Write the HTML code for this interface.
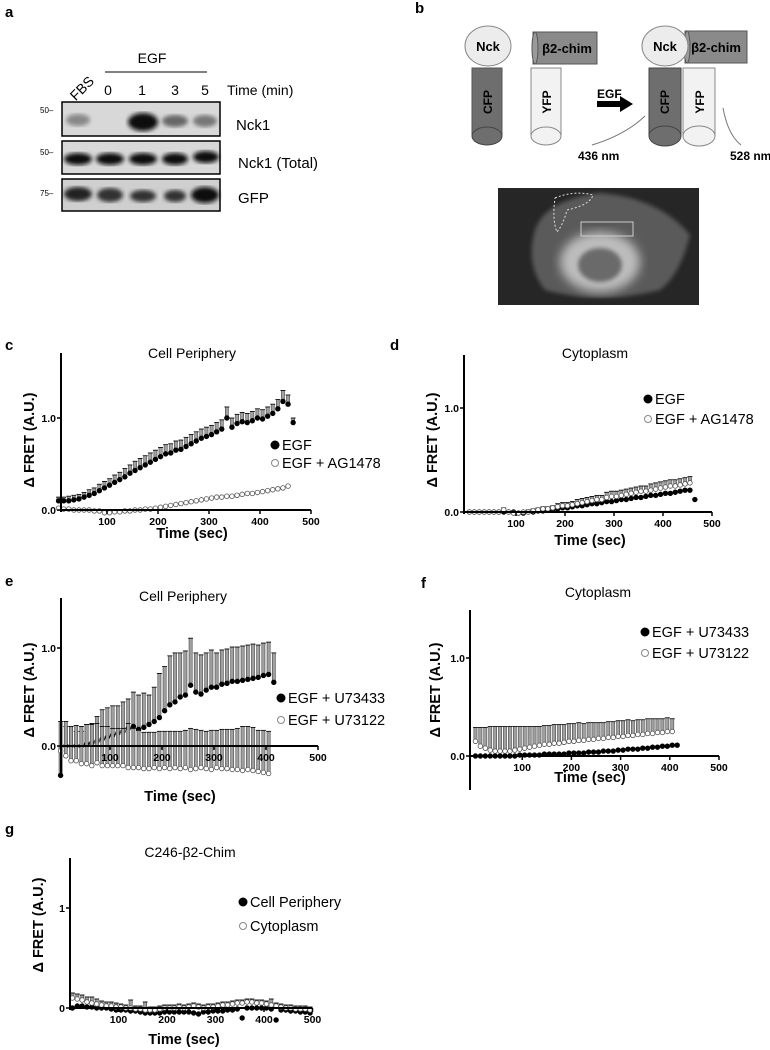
<!DOCTYPE html>
<html><head><meta charset="utf-8">
<style>
html,body{margin:0;padding:0;background:#fff;}
svg{display:block;font-family:"Liberation Sans",Arial,sans-serif;}
.lbl{font-weight:bold;font-size:15px;}
.tick{font-weight:bold;font-size:10.5px;}
.ttl{font-size:14px;}
.axt{font-weight:bold;font-size:14.5px;}
.leg{font-size:14.5px;}
</style></head>
<body>
<svg id="fig" width="770" height="1050" viewBox="0 0 770 1050">
<defs>
<filter id="blur2"><feGaussianBlur stdDeviation="2.2"/></filter>
<filter id="blur4"><feGaussianBlur stdDeviation="5"/></filter>
</defs>

<!-- Panel a -->
<g>
<text class="lbl" x="5" y="17">a</text>
<text x="69" y="95" font-size="14" transform="rotate(-45 80 90)">FBS</text>
<text x="152" y="63" font-size="14" text-anchor="middle">EGF</text>
<line x1="105" y1="72" x2="207" y2="72" stroke="#000" stroke-width="1"/>
<g font-size="14" text-anchor="middle">
<text x="108" y="95">0</text><text x="142" y="95">1</text><text x="175" y="95">3</text><text x="205" y="95">5</text>
</g>
<text x="227" y="95" font-size="14">Time (min)</text>
<g>
<rect x="62" y="102" width="158" height="34" fill="#d8d8d8" stroke="#000" stroke-width="1.5"/>
<ellipse cx="78" cy="120" rx="12" ry="6" fill="#888" filter="url(#blur2)"/>
<ellipse cx="143" cy="122" rx="15" ry="9" fill="#111" filter="url(#blur2)"/>
<ellipse cx="175" cy="121" rx="13" ry="6" fill="#666" filter="url(#blur2)"/>
<ellipse cx="205" cy="121" rx="12" ry="6" fill="#777" filter="url(#blur2)"/>
</g>
<g>
<rect x="62" y="141" width="158" height="33" fill="#d8d8d8" stroke="#000" stroke-width="1.5"/>
<ellipse cx="78" cy="159" rx="14" ry="6" fill="#111" filter="url(#blur2)"/>
<ellipse cx="110" cy="159" rx="14" ry="6" fill="#111" filter="url(#blur2)"/>
<ellipse cx="143" cy="159" rx="14" ry="6" fill="#111" filter="url(#blur2)"/>
<ellipse cx="175" cy="159" rx="13" ry="6" fill="#111" filter="url(#blur2)"/>
<ellipse cx="206" cy="157" rx="13" ry="6" fill="#111" filter="url(#blur2)"/>
</g>
<g>
<rect x="62" y="179" width="158" height="32" fill="#cfcfcf" stroke="#000" stroke-width="1.5"/>
<ellipse cx="78" cy="194" rx="14" ry="7" fill="#222" filter="url(#blur2)"/>
<ellipse cx="110" cy="195" rx="13" ry="7" fill="#333" filter="url(#blur2)"/>
<ellipse cx="143" cy="196" rx="13" ry="6" fill="#333" filter="url(#blur2)"/>
<ellipse cx="175" cy="196" rx="11" ry="6" fill="#333" filter="url(#blur2)"/>
<ellipse cx="205" cy="195" rx="14" ry="8" fill="#111" filter="url(#blur2)"/>
</g>
<g font-size="8">
<text x="40" y="113">50–</text><text x="40" y="155">50–</text><text x="40" y="196">75–</text>
</g>
<text x="236" y="130" font-size="15">Nck1</text>
<text x="238" y="168" font-size="15">Nck1 (Total)</text>
<text x="238" y="203" font-size="15">GFP</text>
</g>

<!-- Panel b -->
<g>
<text class="lbl" x="415" y="13">b</text>
<g>
<rect x="472" y="68" width="30" height="68" fill="#6e6e6e" stroke="#555"/>
<ellipse cx="487" cy="136" rx="15" ry="9" fill="#6e6e6e" stroke="#444"/>
<ellipse cx="488" cy="46" rx="23" ry="20" fill="#ececec" stroke="#888"/>
<text x="488" y="51" font-size="13" font-weight="bold" text-anchor="middle">Nck</text>
<text x="492" y="102" font-size="12" font-weight="bold" text-anchor="middle" transform="rotate(-90 492 102)">CFP</text>
<rect x="531" y="68" width="30" height="68" fill="#f2f2f2" stroke="#888"/>
<ellipse cx="546" cy="136" rx="15" ry="9" fill="#f2f2f2" stroke="#888"/>
<rect x="533" y="32" width="64" height="32" fill="#8a8a8a" stroke="#555"/>
<ellipse cx="535" cy="48" rx="3" ry="16" fill="#9a9a9a" stroke="#555"/>
<text x="567" y="53" font-size="13" font-weight="bold" text-anchor="middle">β2-chim</text>
<text x="551" y="102" font-size="12" font-weight="bold" text-anchor="middle" transform="rotate(-90 551 102)">YFP</text>
</g>
<text x="597" y="98" font-size="12" font-weight="bold">EGF</text>
<path d="M597 101 L620 101 L620 96 L633 104 L620 112 L620 107 L597 107 Z" fill="#000"/>
<g>
<rect x="649" y="68" width="32" height="68" fill="#6e6e6e" stroke="#444"/>
<ellipse cx="665" cy="136" rx="16" ry="10" fill="#6e6e6e" stroke="#444"/>
<rect x="683" y="68" width="32" height="68" fill="#f2f2f2" stroke="#888"/>
<ellipse cx="699" cy="136" rx="16" ry="10" fill="#f2f2f2" stroke="#888"/>
<rect x="685" y="31" width="62" height="32" fill="#8a8a8a" stroke="#555"/>
<ellipse cx="687" cy="47" rx="3" ry="16" fill="#9a9a9a" stroke="#555"/>
<ellipse cx="665" cy="46" rx="23" ry="20" fill="#ececec" stroke="#888"/>
<text x="665" y="51" font-size="13" font-weight="bold" text-anchor="middle">Nck</text>
<text x="716" y="52" font-size="13" font-weight="bold" text-anchor="middle">β2-chim</text>
<text x="669" y="102" font-size="12" font-weight="bold" text-anchor="middle" transform="rotate(-90 669 102)">CFP</text>
<text x="704" y="102" font-size="12" font-weight="bold" text-anchor="middle" transform="rotate(-90 704 102)">YFP</text>
</g>
<path d="M592 145 Q625 135 645 116" fill="none" stroke="#777"/>
<path d="M723 108 Q728 135 741 145" fill="none" stroke="#777"/>
<text x="578" y="160" font-size="12" font-weight="bold">436 nm</text>
<text x="730" y="160" font-size="12" font-weight="bold">528 nm</text>
<g>
<rect x="498" y="188" width="201" height="117" fill="#262626"/>
<path d="M535 230 Q545 200 600 193 Q660 198 690 235 Q680 275 660 290 Q600 305 545 290 Q525 265 535 230Z" fill="#5a5a5a" filter="url(#blur2)"/>
<ellipse cx="600" cy="262" rx="40" ry="30" fill="#bdbdbd" filter="url(#blur4)"/>
<ellipse cx="600" cy="265" rx="22" ry="17" fill="#6a6a6a" filter="url(#blur2)"/>
<path d="M555 198 Q575 190 593 195 Q590 205 567 210 Q563 225 557 232 Q552 220 555 198Z" fill="none" stroke="#ddd" stroke-dasharray="2 2"/>
<rect x="581" y="222" width="52" height="14" fill="none" stroke="#ccc"/>
</g>
</g>

<g id="charts"></g>
</svg>

<script>
// ---------- Panel c data ----------
const cT = [5,15,25,35,45,55,65,75,85,95,105,115,125,135,145,155,165,175,185,195,205,215,225,235,245,255,265,275,285,295,305,315,325,335,345,355,365,375,385,395,405,415,425,435,445,455,465];
const cEGF = [0.10,0.10,0.10,0.11,0.12,0.14,0.16,0.18,0.21,0.24,0.27,0.30,0.33,0.36,0.40,0.43,0.46,0.49,0.52,0.55,0.58,0.61,0.62,0.65,0.66,0.69,0.72,0.75,0.78,0.80,0.82,0.85,0.88,1.00,0.90,0.94,0.96,0.95,0.97,1.00,0.99,1.02,1.05,1.10,1.18,1.15,0.95];
const cEGFerr = [0.04,0.04,0.05,0.05,0.05,0.05,0.06,0.06,0.07,0.07,0.07,0.08,0.08,0.09,0.09,0.1,0.1,0.1,0.1,0.1,0.1,0.1,0.1,0.1,0.1,0.1,0.1,0.1,0.1,0.1,0.1,0.1,0.1,0.12,0.1,0.1,0.1,0.1,0.1,0.1,0.1,0.1,0.1,0.1,0.12,0.1,0.05];
const cAG = [0.02,0.01,0.01,0.0,0.0,0.0,0.0,-0.01,-0.01,-0.03,-0.03,-0.02,-0.02,-0.01,-0.01,0.0,0.0,0.01,0.01,0.02,0.03,0.04,0.05,0.06,0.07,0.08,0.09,0.10,0.11,0.12,0.13,0.14,0.14,0.15,0.15,0.16,0.17,0.18,0.18,0.19,0.20,0.21,0.22,0.23,0.24,0.26];
// ---------- Panel d data ----------
const dT = cT;
const dEGF = [0.0,0.0,0.0,0.0,0.0,0.0,0.0,0.0,0.0,0.0,-0.01,-0.01,0.0,0.0,0.01,0.01,0.02,0.02,0.03,0.04,0.04,0.05,0.06,0.06,0.07,0.08,0.08,0.09,0.10,0.10,0.11,0.12,0.12,0.13,0.14,0.14,0.15,0.16,0.16,0.17,0.18,0.18,0.19,0.20,0.21,0.21,0.12];
const dAG = [0.0,0.0,0.0,0.0,0.0,0.0,0.0,0.02,0.0,-0.01,-0.01,0.0,0.0,0.01,0.02,0.03,0.03,0.04,0.05,0.06,0.06,0.07,0.08,0.09,0.10,0.11,0.12,0.12,0.14,0.15,0.15,0.16,0.17,0.18,0.19,0.20,0.20,0.21,0.22,0.23,0.24,0.25,0.25,0.26,0.27,0.28];
const dAGerr = [0.01,0.01,0.01,0.01,0.01,0.01,0.01,0.02,0.01,0.01,0.01,0.01,0.02,0.02,0.02,0.02,0.02,0.02,0.03,0.03,0.03,0.03,0.04,0.04,0.04,0.04,0.04,0.04,0.05,0.05,0.05,0.05,0.05,0.05,0.05,0.05,0.05,0.06,0.06,0.06,0.06,0.06,0.06,0.06,0.06,0.06];
// ---------- Panel e data ----------
const eT = [5,15,25,35,45,55,65,75,85,95,105,115,125,135,145,155,165,175,185,195,205,215,225,235,245,255,265,275,285,295,305,315,325,335,345,355,365,375,385,395,405,415];
const eU433 = [-0.3,0.0,0.0,0.0,0.0,0.02,0.03,0.05,0.07,0.09,0.11,0.13,0.15,0.18,0.2,0.17,0.19,0.22,0.25,0.29,0.36,0.42,0.45,0.5,0.52,0.62,0.55,0.53,0.57,0.6,0.6,0.63,0.64,0.66,0.66,0.67,0.68,0.69,0.7,0.72,0.73,0.65];
const eU433err = [0.3,0.2,0.2,0.15,0.15,0.2,0.2,0.25,0.3,0.3,0.3,0.28,0.3,0.3,0.35,0.35,0.35,0.3,0.35,0.45,0.45,0.5,0.5,0.45,0.45,0.48,0.4,0.4,0.38,0.38,0.35,0.35,0.35,0.35,0.35,0.35,0.35,0.35,0.33,0.33,0.33,0.3];
const eU122 = [-0.05,-0.1,-0.15,-0.15,-0.18,-0.18,-0.2,-0.17,-0.2,-0.2,-0.2,-0.2,-0.2,-0.22,-0.22,-0.22,-0.23,-0.23,-0.22,-0.23,-0.22,-0.23,-0.22,-0.23,-0.22,-0.24,-0.23,-0.22,-0.23,-0.24,-0.22,-0.23,-0.23,-0.24,-0.24,-0.25,-0.24,-0.25,-0.26,-0.27,-0.28];
const eU122err = [0.3,0.35,0.35,0.36,0.38,0.4,0.42,0.4,0.4,0.4,0.38,0.38,0.38,0.45,0.4,0.38,0.37,0.37,0.36,0.38,0.37,0.38,0.37,0.38,0.38,0.42,0.4,0.38,0.38,0.4,0.38,0.4,0.4,0.41,0.42,0.45,0.44,0.44,0.42,0.43,0.43];
// ---------- Panel f data ----------
const fT = [5,15,25,35,45,55,65,75,85,95,105,115,125,135,145,155,165,175,185,195,205,215,225,235,245,255,265,275,285,295,305,315,325,335,345,355,365,375,385,395,405,415];
const fU433 = [0.0,0.0,0.0,0.0,0.0,0.0,0.0,0.0,0.0,0.01,0.01,0.01,0.01,0.01,0.02,0.02,0.02,0.02,0.02,0.03,0.03,0.03,0.03,0.04,0.04,0.04,0.05,0.05,0.05,0.06,0.06,0.07,0.07,0.07,0.08,0.08,0.09,0.09,0.1,0.1,0.11,0.11];
const fU122 = [0.15,0.1,0.08,0.06,0.05,0.05,0.05,0.05,0.06,0.07,0.08,0.09,0.1,0.11,0.12,0.12,0.13,0.13,0.14,0.15,0.15,0.16,0.16,0.17,0.17,0.18,0.18,0.19,0.19,0.2,0.2,0.21,0.21,0.22,0.22,0.23,0.23,0.24,0.24,0.25,0.25];
const fU122err = [0.14,0.19,0.21,0.24,0.25,0.25,0.25,0.25,0.24,0.23,0.22,0.21,0.2,0.19,0.19,0.19,0.19,0.19,0.18,0.18,0.18,0.18,0.17,0.17,0.17,0.16,0.16,0.16,0.16,0.16,0.16,0.16,0.15,0.15,0.15,0.15,0.15,0.14,0.14,0.14,0.13];
// ---------- Panel g data ----------
const gT = [5,15,25,35,45,55,65,75,85,95,105,115,125,135,145,155,165,175,185,195,205,215,225,235,245,255,265,275,285,295,305,315,325,335,345,355,365,375,385,395,405,415,425,435,445,455,465,475,485,495];
const gPer = [0.0,0.02,0.02,0.01,0.01,0.0,0.0,0.0,-0.01,-0.02,-0.02,-0.02,-0.03,-0.03,-0.04,-0.05,-0.05,-0.05,-0.05,-0.04,-0.04,-0.04,-0.04,-0.04,-0.04,-0.05,-0.06,-0.04,-0.04,-0.03,-0.03,-0.03,-0.02,-0.02,-0.01,-0.1,0.0,0.0,0.0,0.0,0.0,-0.01,-0.12,-0.02,-0.02,-0.03,-0.03,-0.04,-0.04,-0.05];
const gCyt = [0.1,0.09,0.08,0.06,0.05,0.04,0.03,0.02,0.02,0.01,0.01,0.0,0.0,-0.01,-0.01,-0.02,-0.02,-0.02,-0.01,0.0,0.0,0.0,0.01,0.0,0.01,0.02,0.01,0.0,0.01,0.01,0.02,0.03,0.03,0.04,0.05,0.05,0.06,0.06,0.05,0.05,0.04,0.03,0.02,0.01,0.0,0.0,-0.01,-0.01,-0.01,-0.02];
const gCyterr = [0.05,0.05,0.05,0.05,0.06,0.05,0.04,0.04,0.04,0.04,0.03,0.03,0.08,0.03,0.03,0.08,0.03,0.03,0.03,0.03,0.03,0.03,0.03,0.03,0.03,0.03,0.03,0.03,0.03,0.03,0.03,0.03,0.03,0.03,0.03,0.03,0.03,0.03,0.03,0.03,0.03,0.06,0.03,0.03,0.03,0.03,0.03,0.03,0.03,0.03];

const xTicks = [100,200,300,400,500];
const NS = "http://www.w3.org/2000/svg";
const root = document.getElementById('charts');
function mk(tag, attrs, parent){ const e=document.createElementNS(NS,tag); for(const k in attrs) e.setAttribute(k,attrs[k]); (parent||root).appendChild(e); return e; }

function chart(cfg){
  const g = mk('g',{});
  
  
  const X = t => cfg.x0 + t*cfg.pxs;
  const Y = v => cfg.y0 - v*cfg.pyu;
  const L = mk('text',{x:cfg.lx,y:cfg.ly,'class':'lbl'},g); L.textContent=cfg.letter;
  
  
  const T = mk('text',{x:cfg.tx,y:cfg.ty,'class':'ttl','text-anchor':'middle'},g); T.textContent=cfg.title;
  
  
  cfg.series.forEach(s=>{
    const sg = mk('g',{},g);
    
    
    s.t.slice(0,s.v.length).forEach((t,i)=>{
      const v=s.v[i];
      if(s.err){
        const e=s.err[i];
        const top=Y(v+e);
        const bar=mk('rect',{x:X(t)-1.6,y:top,width:3.2,height:Math.max(0,Y(v)-top),fill:'#a0a0a0',stroke:'#333','stroke-width':0.5},sg);
        
        
        mk('line',{x1:X(t)-2.5,x2:X(t)+2.5,y1:top,y2:top,stroke:'#000','stroke-width':0.8},sg);
      }
    });
    s.t.slice(0,s.v.length).forEach((t,i)=>{
      const c=mk('circle',{cx:X(t),cy:Y(s.v[i]),r:2.3,fill:s.filled?'#000':'#fff',stroke:s.filled?'#000':'#555','stroke-width':0.8},sg);
      
      
    });
  });
  const ya=mk('line',{x1:cfg.ax,x2:cfg.ax,y1:cfg.atop,y2:cfg.abot||cfg.y0+2,stroke:'#000','stroke-width':2},g);
  
  
  const xa=mk('line',{x1:cfg.ax,x2:X(500),y1:cfg.y0,y2:cfg.y0,stroke:'#000','stroke-width':2},g);
  
  
  xTicks.forEach(t=>{
    mk('line',{x1:X(t),x2:X(t),y1:cfg.y0,y2:cfg.y0+4,stroke:'#000','stroke-width':1.5},g);
    const tl=mk('text',{x:X(t),y:cfg.y0+15,'class':'tick','text-anchor':'middle'},g); tl.textContent=t;
    
    
  });
  cfg.yTicks.forEach((v,i)=>{
    mk('line',{x1:cfg.ax-4,x2:cfg.ax,y1:Y(v),y2:Y(v),stroke:'#000','stroke-width':1.5},g);
    const tl=mk('text',{x:cfg.ax-5,y:Y(v)+4,'class':'tick','text-anchor':'end'},g); tl.textContent=cfg.yLabels[i];
    
    
  });
  const xt=mk('text',{x:cfg.xtx,y:cfg.xty,'class':'axt','text-anchor':'middle'},g); xt.textContent='Time (sec)';
  
  
  const yt=mk('text',{x:cfg.ytx,y:cfg.yty,'class':'axt','text-anchor':'middle',transform:`rotate(-90 ${cfg.ytx} ${cfg.yty})`},g); yt.textContent='Δ FRET (A.U.)';
  
  
  cfg.series.forEach((s,i)=>{
    const lg=mk('g',{},g);
    
    
    mk('circle',{cx:cfg.legx,cy:cfg.legy+i*cfg.legdy-5,r:s.filled?4:3.5,fill:s.filled?'#000':'#fff',stroke:s.filled?'#000':'#888'},lg);
    const tx=mk('text',{x:cfg.legx+7,y:cfg.legy+i*cfg.legdy,'class':'leg'},lg); tx.textContent=s.label;
  });
}

chart({name:'panel-c-chart',letter:'c',lx:5,ly:350,title:'Cell Periphery',tx:192,ty:358,
  x0:56,pxs:0.51,y0:510,pyu:92,ax:61,atop:353,yTicks:[0,1],yLabels:['0.0','1.0'],
  xtx:192,xty:538,ytx:34,yty:440,legx:275,legy:450,legdy:18,
  series:[{name:'series-egf',label:'EGF',filled:true,t:cT,v:cEGF,err:cEGFerr},
          {name:'series-egf-ag1478',label:'EGF + AG1478',filled:false,t:cT,v:cAG}]});
chart({name:'panel-d-chart',letter:'d',lx:390,ly:350,title:'Cytoplasm',tx:595,ty:358,
  x0:467,pxs:0.49,y0:512,pyu:104,ax:464,atop:355,yTicks:[0,1],yLabels:['0.0','1.0'],
  xtx:590,xty:545,ytx:437,yty:440,legx:648,legy:404,legdy:20,
  series:[{name:'series-egf',label:'EGF',filled:true,t:dT,v:dEGF},
          {name:'series-egf-ag1478',label:'EGF + AG1478',filled:false,t:dT,v:dAG,err:dAGerr}]});
chart({name:'panel-e-chart',letter:'e',lx:5,ly:586,title:'Cell Periphery',tx:183,ty:601,
  x0:58,pxs:0.52,y0:746,pyu:98,ax:61,atop:598,abot:775,yTicks:[0,1],yLabels:['0.0','1.0'],
  xtx:180,xty:801,ytx:34,yty:690,legx:281,legy:703,legdy:22,
  series:[{name:'series-egf-u73433',label:'EGF + U73433',filled:true,t:eT,v:eU433,err:eU433err},
          {name:'series-egf-u73122',label:'EGF + U73122',filled:false,t:eT,v:eU122,err:eU122err}]});
chart({name:'panel-f-chart',letter:'f',lx:421,ly:588,title:'Cytoplasm',tx:598,ty:597,
  x0:473,pxs:0.492,y0:756,pyu:98,ax:470,atop:610,abot:790,yTicks:[0,1],yLabels:['0.0','1.0'],
  xtx:590,xty:782,ytx:440,yty:690,legx:645,legy:637,legdy:21,
  series:[{name:'series-egf-u73433',label:'EGF + U73433',filled:true,t:fT,v:fU433},
          {name:'series-egf-u73122',label:'EGF + U73122',filled:false,t:fT,v:fU122,err:fU122err}]});
chart({name:'panel-g-chart',letter:'g',lx:5,ly:834,title:'C246-β2-Chim',tx:190,ty:857,
  x0:70,pxs:0.485,y0:1008,pyu:100,ax:70,atop:858,yTicks:[0,1],yLabels:['0','1'],
  xtx:184,xty:1044,ytx:43,yty:925,legx:243,legy:907,legdy:24,
  series:[{name:'series-cell-periphery',label:'Cell Periphery',filled:true,t:gT,v:gPer},
          {name:'series-cytoplasm',label:'Cytoplasm',filled:false,t:gT,v:gCyt,err:gCyterr}]});
</script>
</body></html>
